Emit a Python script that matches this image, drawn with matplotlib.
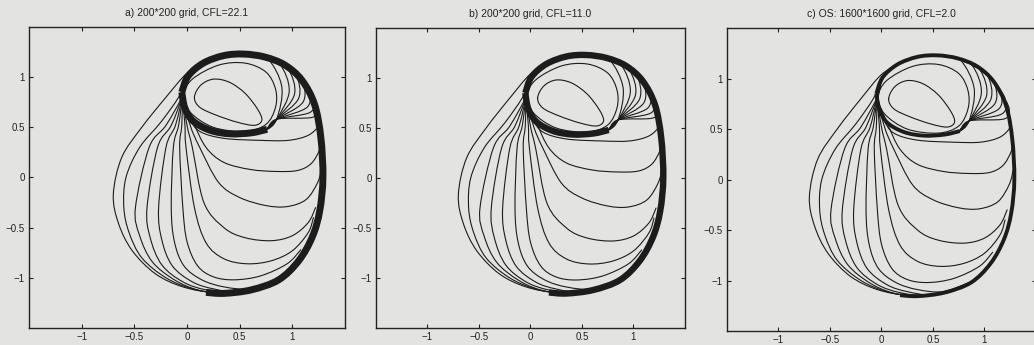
import numpy as np
import matplotlib
matplotlib.use("Agg")
import matplotlib.pyplot as plt
from matplotlib.path import Path
from matplotlib.patches import PathPatch

plt.rcParams['font.family'] = ['Liberation Sans', 'DejaVu Sans']

titles = ["a) 200*200 grid, CFL=22.1",
          "b) 200*200 grid, CFL=11.0",
          "c) OS: 1600*1600 grid, CFL=2.0"]
ticks = [-1, -0.5, 0, 0.5, 1]

# thick bands (where the contours pile up)
top_band = [(-0.05, 0.85), (0.01, 1.01), (0.155, 1.14), (0.35, 1.215), (0.54, 1.23),
            (0.74, 1.20), (0.93, 1.12), (1.09, 0.97), (1.21, 0.73), (1.27, 0.40),
            (1.29, 0.0), (1.26, -0.33), (1.19, -0.59), (1.06, -0.83), (0.87, -1.02),
            (0.61, -1.12), (0.35, -1.155), (0.18, -1.145)]
ring_band = [(-0.05, 0.85), (-0.02, 0.69), (0.06, 0.56), (0.22, 0.47), (0.41, 0.435),
             (0.61, 0.445), (0.76, 0.48)]

# closed loops inside the ring
small_loop = [(0.07, 0.8), (0.13, 0.92), (0.25, 0.98), (0.4, 0.95), (0.55, 0.84),
              (0.67, 0.68), (0.71, 0.57), (0.64, 0.52), (0.48, 0.55), (0.28, 0.62), (0.12, 0.7)]
inner_loop = [(-0.03, 0.82), (0.05, 0.98), (0.3, 1.12), (0.55, 1.14), (0.75, 1.05),
              (0.84, 0.88), (0.84, 0.7), (0.75, 0.53), (0.55, 0.46), (0.25, 0.5), (0.03, 0.65)]

# nested loops leaving the top arc and dropping back onto the ring bottom
fan_starts = [(0.6, 1.22), (0.7, 1.2), (0.8, 1.17), (0.88, 1.13),
              (0.96, 1.08), (1.04, 1.01), (1.11, 0.94), (1.17, 0.85)]
fan_tops = [(0.77, 1.18), (0.88, 1.13), (0.96, 1.08), (1.03, 1.03),
            (1.09, 0.97), (1.15, 0.88), (1.2, 0.8), (1.24, 0.7)]
fan_mids = [(0.9, 0.9), (0.97, 0.86), (1.02, 0.83), (1.06, 0.79),
            (1.1, 0.75), (1.14, 0.7), (1.17, 0.65), (1.19, 0.6)]
fan_base = [(0.85, 0.58), (0.74, 0.47), (0.58, 0.445)]

# open curves leaving the cusp and joining the outer band
u1 = [(0.0, 1.0), (-0.04, 0.82), (0.02, 0.6), (0.12, 0.46), (0.35, 0.39), (0.7, 0.37),
      (0.96, 0.37), (1.15, 0.42), (1.25, 0.52), (1.25, 0.62)]
u2 = [(0.0, 1.0), (-0.04, 0.82), (0.06, 0.55), (0.18, 0.3), (0.35, 0.15), (0.6, 0.08),
      (0.85, 0.06), (1.05, 0.07), (1.18, 0.14), (1.26, 0.28), (1.28, 0.4)]
u3 = [(0.0, 1.0), (-0.04, 0.82), (0.03, 0.52), (0.12, 0.3), (0.3, -0.05), (0.5, -0.2),
      (0.75, -0.28), (0.95, -0.29), (1.13, -0.22), (1.24, -0.05), (1.28, 0.1)]
u4 = [(0.0, 1.0), (-0.04, 0.82), (0.0, 0.52), (0.05, 0.3), (0.16, -0.25), (0.35, -0.5),
      (0.55, -0.6), (0.8, -0.63), (1.0, -0.58), (1.15, -0.45), (1.22, -0.3)]
u5 = [(0.0, 1.0), (-0.04, 0.82), (-0.02, 0.52), (-0.01, 0.3), (0.07, -0.3), (0.18, -0.65),
      (0.35, -0.81), (0.57, -0.86), (0.8, -0.83), (1.0, -0.73), (1.15, -0.55), (1.2, -0.4)]
u6 = [(0.0, 1.0), (-0.04, 0.82), (-0.05, 0.52), (-0.07, 0.3), (-0.04, -0.3), (0.0, -0.64),
      (0.1, -0.88), (0.25, -0.99), (0.45, -1.02), (0.7, -0.98), (0.95, -0.86), (1.08, -0.72)]
u7 = [(0.0, 1.0), (-0.04, 0.82), (-0.08, 0.52), (-0.13, 0.3), (-0.15, -0.3), (-0.12, -0.64),
      (-0.03, -0.88), (0.14, -1.02), (0.35, -1.09), (0.6, -1.11), (0.85, -1.02)]
u8 = [(0.0, 1.0), (-0.04, 0.82), (-0.11, 0.52), (-0.2, 0.3), (-0.27, -0.3), (-0.24, -0.62),
      (-0.14, -0.88), (0.05, -1.04), (0.25, -1.11), (0.5, -1.14), (0.8, -1.05)]
u9 = [(0.0, 1.0), (-0.04, 0.82), (-0.15, 0.52), (-0.28, 0.3), (-0.38, -0.3), (-0.35, -0.6),
      (-0.24, -0.87), (-0.04, -1.04), (0.18, -1.12), (0.45, -1.15), (0.75, -1.08)]
u10 = [(0.0, 1.0), (-0.04, 0.82), (-0.2, 0.52), (-0.36, 0.3), (-0.49, -0.3), (-0.45, -0.58),
       (-0.33, -0.84), (-0.12, -1.02), (0.1, -1.12), (0.35, -1.155), (0.65, -1.12)]
u11 = [(0.03, 1.03), (-0.08, 0.8), (-0.25, 0.55), (-0.45, 0.3), (-0.58, 0.0), (-0.6, -0.3),
       (-0.55, -0.55), (-0.43, -0.8), (-0.2, -1.0), (0.05, -1.11), (0.3, -1.15), (0.6, -1.13)]
u12 = [(0.18, 1.15), (0.0, 1.04), (-0.2, 0.8), (-0.43, 0.5), (-0.62, 0.2), (-0.7, -0.17),
       (-0.65, -0.46), (-0.52, -0.73), (-0.3, -0.96), (-0.04, -1.09), (0.25, -1.145),
       (0.55, -1.13)]
outer_curves = [u1, u2, u3, u4, u5, u6, u7, u8, u9, u10, u11, u12]

band_widths = [5.0, 4.6, 2.8]


def smooth_path(pts, closed=False):
    # Catmull-Rom through the anchors, handed to matplotlib as cubic Beziers
    p = np.array(pts, dtype=float)
    n = len(p)
    if closed:
        idx = lambda i: p[i % n]
        segs = n
    else:
        idx = lambda i: p[min(max(i, 0), n - 1)]
        segs = n - 1
    verts = [p[0]]
    codes = [Path.MOVETO]
    for i in range(segs):
        p0, p1, p2, p3 = idx(i - 1), idx(i), idx(i + 1), idx(i + 2)
        verts += [p1 + (p2 - p0) / 6.0, p2 - (p3 - p1) / 6.0, p2]
        codes += [Path.CURVE4] * 3
    return Path(verts, codes)


def draw_curve(ax, pts, lw, closed=False, cap='round'):
    ax.add_patch(PathPatch(smooth_path(pts, closed), fill=False, lw=lw,
                           edgecolor='#1c1c1c', capstyle=cap, joinstyle='round'))


fig = plt.figure(figsize=(10.34, 3.45), dpi=100)
fig.patch.set_facecolor('#e3e3e1')

positions = [(0.0281, 0.0493, 0.3056, 0.8725),
             (0.3636, 0.0493, 0.2988, 0.8696),
             (0.7031, 0.0406, 0.2988, 0.8780)]

for k, pos in enumerate(positions):
    ax = fig.add_axes(pos)
    ax.set_facecolor('#e3e3e1')
    bw = band_widths[k]
    draw_curve(ax, top_band, bw, cap='butt')
    draw_curve(ax, ring_band, bw, cap='butt')
    draw_curve(ax, small_loop, 0.8, closed=True)
    draw_curve(ax, inner_loop, 0.8, closed=True)
    for start, top, mid in zip(fan_starts, fan_tops, fan_mids):
        draw_curve(ax, [start, top, mid] + fan_base, 0.8)
    for c in outer_curves:
        draw_curve(ax, c, 0.8)

    ax.set_xlim(-1.5, 1.5)
    ax.set_ylim(-1.5, 1.5)
    ax.set_xticks(ticks)
    ax.set_yticks(ticks)
    ax.set_xticklabels(['\u22121', '\u22120.5', '0', '0.5', '1'])
    ax.set_yticklabels(['\u22121', '\u22120.5', '0', '0.5', '1'])
    ax.tick_params(direction='in', length=3, width=0.8, labelsize=7, pad=3,
                   top=True, right=True, colors='#222222')
    for s in ax.spines.values():
        s.set_linewidth(1.0)
        s.set_color('#222222')
    ax.set_title(titles[k], fontsize=7.5, pad=8, color='#222222')

fig.savefig('out.png', dpi=100, facecolor=fig.get_facecolor())
